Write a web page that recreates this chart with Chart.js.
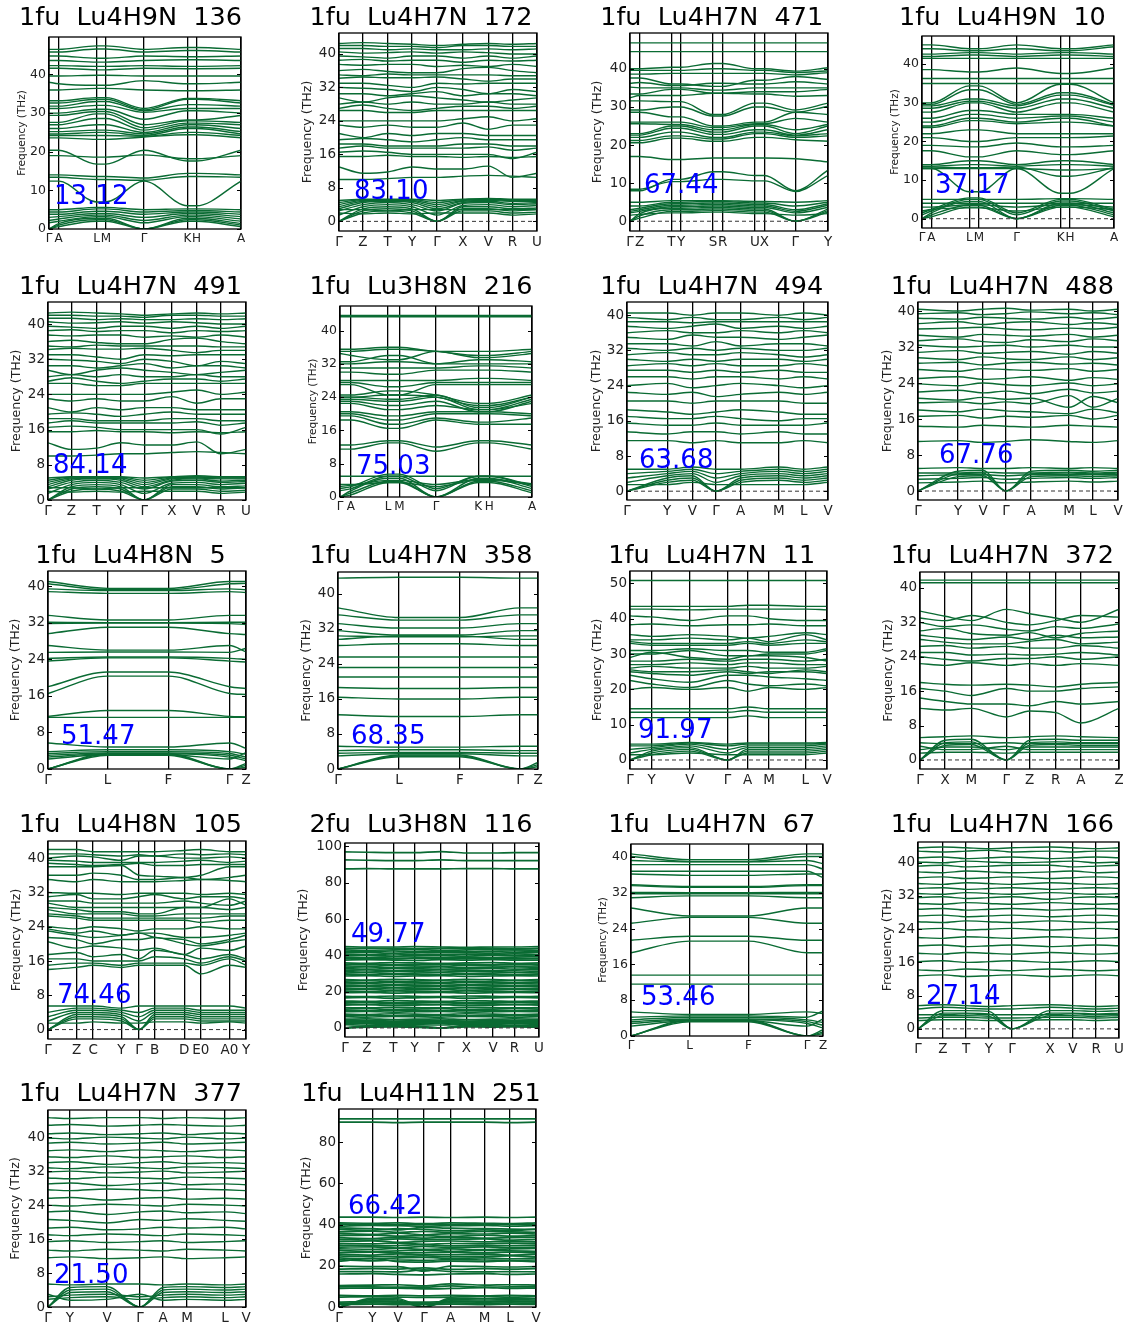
<!DOCTYPE html>
<html>
<head>
<meta charset="utf-8">
<script src="https://cdn.jsdelivr.net/npm/chart.js@4.4.0/dist/chart.umd.min.js"></script>
<style>
  body { margin: 0; background: #fff; width: 1123px; height: 1327px; position: relative; overflow: hidden; }
  canvas { position: absolute; }
</style>
</head>
<body>
<script>
// ---- titles / numbers shown in each panel ----
const titles = ['1fu  Lu4H9N  136', '1fu  Lu4H7N  172', '1fu  Lu4H7N  471', '1fu  Lu4H9N  10',
  '1fu  Lu4H7N  491', '1fu  Lu3H8N  216', '1fu  Lu4H7N  494', '1fu  Lu4H7N  488',
  '1fu  Lu4H8N  5', '1fu  Lu4H7N  358', '1fu  Lu4H7N  11', '1fu  Lu4H7N  372',
  '1fu  Lu4H8N  105', '2fu  Lu3H8N  116', '1fu  Lu4H7N  67', '1fu  Lu4H7N  166',
  '1fu  Lu4H7N  377', '1fu  Lu4H11N  251'];
const values = ['13.12', '83.10', '67.44', '37.17', '84.14', '75.03', '63.68', '67.76',
  '51.47', '68.35', '91.97', '', '74.46', '49.77', '53.46', '27.14', '21.50', '66.42'];

// ---- y tick labels ----
const ticks8 = [0, 8, 16, 24, 32, 40];
const ticks10 = [0, 10, 20, 30, 40];
const ticks10b = [0, 10, 20, 30, 40, 50];
const ticks20 = [0, 20, 40, 60, 80, 100];
const ticks20b = [0, 20, 40, 60, 80];

// ---- k-paths (labels + fraction along path) ----
const kLabelsHex = ['Γ', 'A', 'L', 'M', 'Γ', 'K', 'H', 'A'];
const kLabelsOrtho = ['Γ', 'Z', 'T', 'Y', 'Γ', 'X', 'V', 'R', 'U'];
const kLabels471 = ['Γ', 'Z', 'T', 'Y', 'S', 'R', 'U', 'X', 'Γ', 'Y'];
const kLabelsMono = ['Γ', 'Y', 'V', 'Γ', 'A', 'M', 'L', 'V'];
const kLabelsRh = ['Γ', 'L', 'F', 'Γ', 'Z'];
const kLabels372 = ['Γ', 'X', 'M', 'Γ', 'Z', 'R', 'A', 'Z'];
const kLabels105 = ['Γ', 'Z', 'C', 'Y', 'Γ', 'B', 'D', 'E0', 'A0', 'Y'];

const kPos136 = [0, 0.05, 0.248, 0.296, 0.495, 0.721, 0.768, 1];
const kPos172 = [0, 0.121, 0.245, 0.369, 0.495, 0.626, 0.754, 0.876, 1];
const kPos471 = [0, 0.049, 0.209, 0.258, 0.419, 0.468, 0.631, 0.679, 0.835, 1];
const kPos10 = [0, 0.049, 0.246, 0.297, 0.493, 0.722, 0.771, 1];
const kPos491 = [0, 0.118, 0.245, 0.367, 0.486, 0.625, 0.752, 0.873, 1];
const kPos216 = [0, 0.057, 0.25, 0.309, 0.5, 0.72, 0.777, 1];
const kPos494 = [0, 0.2, 0.325, 0.443, 0.565, 0.755, 0.88, 1];
const kPos488 = [0, 0.2, 0.325, 0.44, 0.565, 0.755, 0.875, 1];
const kPos5 = [0, 0.301, 0.608, 0.917, 1];
const kPos358 = [0, 0.305, 0.61, 0.91, 1];
const kPos11 = [0, 0.11, 0.304, 0.495, 0.597, 0.706, 0.89, 1];
const kPos372 = [0, 0.126, 0.258, 0.434, 0.551, 0.682, 0.808, 1];
const kPos105 = [0, 0.144, 0.228, 0.371, 0.46, 0.539, 0.688, 0.772, 0.916, 1];
const kPos116 = [0, 0.113, 0.249, 0.359, 0.494, 0.626, 0.763, 0.873, 1];
const kPos67 = [0, 0.305, 0.612, 0.917, 1];
const kPos166 = [0, 0.124, 0.239, 0.353, 0.468, 0.657, 0.771, 0.886, 1];
const kPos377 = [0, 0.111, 0.298, 0.465, 0.581, 0.702, 0.894, 1];
const kPos251 = [0, 0.17, 0.3, 0.431, 0.566, 0.739, 0.868, 1];

// ---- bands: frequency (THz) at each k-point ----
const bands136 = [
  [46.5,46.5,47.4,47.4,46.5,47,47,46.5],[45.8,45.8,46.6,46.6,45.8,46.2,46.2,45.8],
  [44.8,44.8,44.2,44.2,44.8,44.6,44.6,44.8],[43.6,43.6,43.2,43.2,43.6,43.8,43.8,43.6],
  [42.3,42.3,42.1,42.1,42.3,42.1,42.1,42.3],[41.6,41.6,41.2,41.2,41.6,41.5,41.5,41.6],
  [39.6,39.6,39.8,39.8,39.6,39.6,39.6,39.6],[38,37.6,37.2,37.2,38.4,37.6,37.6,38],
  [36,36,36.4,36.4,36,35.8,35.8,36],[33.2,33.2,34,34,31.2,33.8,33.8,33.2],
  [32.6,32.6,33.6,33.6,30.8,33.6,33.6,32.6],[31.8,31.8,33,33,30.6,32.2,32.2,31.8],
  [31.2,31.2,32,32,30.2,31.2,31.2,31.2],[30,30,31,31,28.4,30.6,30.6,30],
  [29.4,29.4,30.4,30.4,27,28.2,28.2,29.4],[27.6,27.6,29.8,29.8,26.2,28,28,27.6],
  [27,27,28.6,28.6,25.6,27.4,27.4,27],[26,26,27,27,25,27,27,26],
  [25.2,25.2,25.6,25.6,24.6,26.4,26.4,25.2],[24.6,24.6,25,25,24.2,26,26,24.6],
  [24.2,24.2,24.2,24.2,24,25,25,24.2],[23.6,23.6,23.2,23.2,23.8,24.4,24.4,23.6],
  [20.4,20.4,16.8,16.8,20.4,17.6,17.6,20.4],[19,19,18.6,18.6,19.2,18.2,18.2,19],
  [14,14,13.6,13.6,13.2,14.4,14.4,14],[13.4,13.4,12.8,12.8,12.6,13.6,13.6,13.4],
  [12.4,12.4,7,7,12.4,6,6,12.4],[5,5,5.6,5.6,5,5.2,5.2,5],
  [4.4,4.4,5.2,5.2,4.4,4.8,4.8,4.4],[3.8,3.8,4.6,4.6,3.8,4.4,4.4,3.8],
  [3,3.2,4,4,3,4,4,3.2],[2.2,2.6,3.6,3.6,2.2,3.6,3.6,2.6],
  [1.6,2,3.2,3.2,1.6,3.2,3.2,2],[0,1.4,2.8,2.8,0,2.8,2.8,1.4],
  [0,1,2.4,2.4,0,2.4,2.4,1],[0,0.6,2,2,0,2,2,0.6]
];
const bands172 = [
  [42.5,42.7,42.5,42.3,42,42.3,42.5,42.3,42.5],[42,42,41.8,41.8,41.5,42,42,41.8,41.8],
  [41.3,41.3,41,41.2,41,41,41.2,41,41.2],[40.5,40.2,40.3,40.5,40.2,40.5,40.3,40,40],
  [39.5,39.3,39,39.5,39.5,39,39.5,39,39.5],[38.5,38.7,38.3,38.5,38.5,38,38.5,38.3,38.5],
  [37.5,37.3,37.5,37.5,37,37.3,37,37.5,37],[36,36.3,35.8,35.5,35.5,36.5,36.8,36,35.5],
  [35,34.8,35.2,35,35,35,35,34.8,34.8],[34.2,34.5,34.3,34.3,34.5,34,33.5,34,34],
  [33,33,32.5,32,33,32.8,33,33,33],[32,31.8,31.5,31,32,31.5,30.5,31.5,31],
  [30.5,30.5,30,30.5,31,30,30.5,30.5,30],[29.5,28.5,29.5,30,29.5,29,28.5,29,29.5],
  [28,28.5,28,28.5,28,28,28.5,28,28],[27,27.8,27,26.5,27,27.5,27.5,27,27.5],
  [26.5,26.5,26,26,26.5,26.5,26.5,26.5,26.5],[24,24,24,24,24,24.5,25,24,24.5],
  [23,22.5,23,22.5,22.5,23.5,22,23,23],[21,20,21,20.5,21,21,20.5,20.5,20.5],
  [19.5,19.8,19.5,19,19.5,20,19.5,19.5,19.5],[18.5,18.5,18,18,18,18.5,18.5,18,18],
  [17.5,18,17.5,17.5,17.5,17.5,17.8,17,17.5],[16.5,16.8,16.5,16,16,16,16,15,16.5],
  [15.5,15.5,15.8,15.5,15.5,15.3,15.5,15.3,15.5],[13,11.5,11.8,13,12.5,12.5,13.2,10.5,11.5],
  [10,10,10.2,10.5,10.5,10.8,11,10.8,10.5],
  [0,2,2.5,2,0,2.5,2.5,2,2.2],[0,2.5,3,2.5,0,3,3,2.5,2.8],[0,3,3.5,3,0,3.5,3.5,3,3.2],
  [1.5,3.5,4,3.5,1.5,3.8,4,3.5,3.8],[2.5,4,4.5,4,2.5,4.3,4.5,4,4.2],
  [3,4.5,4.8,4.5,3,4.5,4.8,4.3,4.5],[3.5,4.8,5,4.8,3.5,4.8,5,4.8,4.8],
  [4,5,5,5,4,5,5.2,5,5],[4.5,5.2,5.2,5.2,4.5,5.2,5.3,5.2,5.2],
  [5,5.3,5.3,5.3,5,5.3,5.5,5.3,5.3],[2,1.8,2,1.8,2,2,2,1.5,1.8],
  [2.8,2.8,2.5,2.8,2.8,2.8,2.8,2.8,2.8]
];
const bands471 = [
  [46.8,46.8,46.8,46.8,46.8,46.8,46.8,46.8,46.8,46.8],[44.5,44.5,44.5,44.5,44.5,44.5,44.5,44.5,44.5,44.5],
  [40,40,40.4,40.4,41.4,41.4,40,40,39.4,40.3],[39.6,39.6,39.6,39.6,40,40,39.6,39.6,39,39.5],
  [38.6,38.6,38.8,38.8,38.8,38.8,38.8,38.8,38.4,39],[37.6,37.6,36,36,35.4,35.4,37,37,38,37.2],
  [36.2,36.4,35.6,35.6,36.2,36.2,36,36,36.6,36],[35.2,35,35,35,34.4,34.4,35,35,35,35],
  [33.4,33.4,34.6,34.6,33.6,33.6,34,34,34,34.6],[32.4,33,33,33,33.6,33.6,33.4,33.4,32.8,33],
  [31.6,31.6,31.4,31.4,28,28,31,31,29.2,31],[29.2,29.2,30,30,27.6,27.6,30,30,28.6,30.2],
  [28.6,28.6,27.4,27.4,25,25,26,26,28.6,28],[26,26,26,26,24.6,24.6,25.6,25.6,27,26],
  [25.6,25.6,25.4,25.4,24,24,25.4,25.4,24,25.4],[23,23,25,25,23.4,23.4,25,25,23,25],
  [22.6,22.6,24.4,24.4,22.8,22.8,24,24,22.6,24],[22,22,23.4,23.4,22,22,23.4,23.4,22.4,23],
  [21.2,21.2,22.4,22.4,21.6,21.6,23,23,22,22.4],[20.6,20.6,21.8,21.8,21,21,22,22,21.4,21],
  [17,17,16.2,16.2,16.6,16.6,16.6,16.6,16.4,15.6],[8,8,11,11,13,13,12,12,8,13.4],
  [8.4,8.4,10.4,10.4,11,11,10.6,10.6,7.8,12],[5,5,5.4,5.4,5.4,5.4,5.2,5.2,5,5.4],
  [4,4,5,5,5.2,5.2,4.8,4.8,4,5],[3,3.4,4.6,4.6,4.8,4.8,4.4,4.4,3,4.6],
  [2.6,3,4.2,4.2,4.4,4.4,4,4,2.6,4.2],[2.2,2.6,3.8,3.8,4,4,3.6,3.6,2.2,3.6],
  [0,2,3.4,3.4,3.6,3.6,3.2,3.2,0,3.2],[0,1.4,3,3,3.2,3.2,2.8,2.8,0,2.8],
  [0,0.8,2.6,2.6,2.8,2.8,2.4,2.4,0,2.4],[1.6,1.8,2.2,2.2,2.4,2.4,2,2,1.6,2]
];
const bands10 = [
  [45,45,44,44,45,44,44,45],[44,44,43.5,43.5,44,43.5,43.5,44.5],
  [42.6,42.6,43,43,42.6,43,43,42.6],[42,42,42.4,42.4,42,42.4,42.4,42],
  [41.5,41.5,41.5,41.5,41.5,41.5,41.5,41.5],[38.6,38.6,38,38,39,37.6,37.6,39],
  [36.3,36.3,36.3,36.3,36.3,36.3,36.3,36.3],[35,35,35,35,35,35,35,35],
  [30,30,34.4,34.4,30,34.8,34.8,30],[29.6,29.6,33.4,33.4,29.6,32.6,32.6,29.6],
  [29.2,29.2,31,31,29.2,32,32,29.4],[28.6,28.6,30.4,30.4,28.6,31,31,28.6],
  [27.6,27.6,30,30,27.6,30,30,27.6],[26,26,28,28,27,27,27,26],
  [25,25,27,27,26,26.6,26.6,25],[24,24,26,26,25,26,26,24],
  [23.6,23.6,25.4,25.4,24.6,25,25,24],[22,22,23,23,22,22,22,22],
  [21,21,20,20,21,21,21,21.4],[19,19,18.6,18.6,19.6,18.6,18.6,19],
  [17.6,17.6,16,16,17.6,16.6,16.6,17.6],[14,14,15,15,14,15,15,14],
  [13.6,13.6,14,14,13.6,14,14,13.6],[13,13,13,13,13,12.6,12.6,13],
  [13,13,7,7,13,6.6,6.6,13],[13.4,13.4,13.2,13.2,13.4,11,11,13.2],
  [5,5,5,5,5,5.2,5.2,5],[4,4,4,4,4,4,4,4],[3,3,3.6,3.6,3,3.6,3.6,3],
  [2,2.4,2.8,2.8,2,3,3,2.4],[1.5,2.4,5.4,5.4,1.5,5,5,2.4],[1,2,5,5,1,4.6,4.6,2],
  [0,1.5,4.5,4.5,0,4,4,1.5],[0,1,3.5,3.5,0,3.5,3.5,1],[0,0.5,3,3,0,3,3,0.5]
];
const bands491 = bands172; // this panel shows the same spectrum as 172
const bands216 = [
  [43.6,43.6,43.6,43.6,43.6,43.6,43.6,43.6],[43.3,43.3,43.3,43.3,43.3,43.3,43.3,43.3],
  [35.5,35.5,36,36,35,35,35,35.5],[35,35,35.5,35.5,35,34,34,35],
  [34.5,34,33,33,35,33.5,33.5,34.5],[32.5,32.5,34,34,32,33,33,32.5],
  [32,32,32.5,32.5,32,32,32,32],[31,31,31,31,31,31.5,31.5,31],
  [30,30,29.5,29.5,30.5,30.5,30.5,30],[28,28,28,28,28,28.5,28.5,28],
  [27.5,27.5,26.5,26.5,27.5,27.5,27.5,27.5],[27,27,24.5,24.5,27,27,27,27],
  [24.5,24.5,25.5,25.5,24.5,22.5,22.5,24.5],[24,24,24.5,24.5,24,22,22,24],
  [24,24,23.5,23.5,24.5,21.5,21.5,24],[23.5,23.5,23,23,24,21,21,23.5],
  [23,23,22,22,23,20.5,20.5,23],[22.5,22.5,21,21,22,21,21,22.5],
  [20.5,20.5,19.5,19.5,20.5,20.5,20.5,20],[20,20,18.5,18.5,20,20,20,19.5],
  [18.5,18.5,16.5,16.5,18.5,17.5,17.5,17.5],[19.5,19.5,17.5,17.5,19,18,18,19],
  [12.5,12.5,13.5,13.5,12,13.5,13.5,12.5],[11.5,11.5,13,13,11,13,13,11.5],
  [5,5,5,5,5,5,5,5],[3,3,4,4,3,4.2,4.2,3.2],[2.5,2.8,3.5,3.5,2.5,4,4,3],
  [2,2.5,5.5,5.5,2,5,5,2.8],[1.5,2,5,5,1.5,5,5,2.5],
  [0,1.5,4.5,4.5,0,4.5,4.5,2],[0,1,3.8,3.8,0,3.8,3.8,1.5],[0,0.5,3.5,3.5,0,3.5,3.5,1]
];
const bands494 = [
  [40.5,40.5,40,40.5,40.5,40,40.5,40],[39.5,39,39.5,39,39,39.5,39,39.5],
  [38.5,38.5,38.3,38.5,38.5,38.5,38.5,38.5],[37.5,37,37.5,38,37,37.5,37,37.5],
  [36,36.5,36,36,36.5,36,36.5,36],[35,34.5,35.5,35,35,34.5,35,35.5],
  [33.5,33.5,33,34,33,33.5,33.5,33],[32.5,32,32.5,32,32.5,32,32,32.5],
  [31,31.5,31,31,31.5,31,30.5,31],[30,29.5,30,29.5,30,30,29.5,30],
  [28.5,29,28.5,29,28.5,28.5,29,28.5],[27.5,27.5,27,27.5,27,27.5,27,27],
  [26,26,25.5,26,26,25.5,26,25.5],[24,24.5,23.5,24,24.5,24,23.5,24],
  [22.5,22,22.5,21.5,22,22.5,22,22.5],[20.5,20.5,20,20.5,20.5,20.5,20,20],
  [18.5,18,17.5,18,18.5,18,17.5,17.5],[17,16.5,16.5,17,16.5,16,16.5,16.5],
  [15.5,15,15,15.5,15,15,15,15.5],[13.5,13,13.5,13.5,13,13.5,13,13],
  [11.5,11.5,11,11.5,11,11,11.5,11],
  [0,2,2.5,0,2,2.5,2,2.5],[0,2.5,3,0,2.5,3,2.5,3],[0,3,3.5,0,3,3.5,3,3.5],
  [2,3.5,4,2,3.5,4,3.5,4],[3,4,4.5,3,4,4.5,4,4.5],[4,4.5,5,4,4.5,5,4.5,5],
  [5,5,5.5,5,5,5.5,5,5.5],[1.5,1.5,2,1.5,1.5,1.5,1.5,2]
];
const bands488 = [
  [40.4,40,40.4,40.6,40.2,40.4,40,40.4],[39.4,39.6,39.2,39.4,39.8,39.4,39.6,39.2],
  [38.4,38.2,38.6,38.4,38.2,38.6,38.2,38.6],[37.2,37.6,37,37.4,37.6,37,37.4,37],
  [36,36.2,36.4,36,35.8,36.2,36,36.4],[34.6,34.2,34.8,34.6,34.4,34.8,34.2,34.6],
  [33.4,33.8,33.2,33,33.6,33.2,33.8,33.4],[32.4,32,32.2,32.4,32,32.4,32,32],
  [30.8,31.2,30.6,30.8,31,30.4,31,30.6],[29.6,29.2,29.8,29.4,29.2,29.8,29.2,29.6],
  [28.4,28.6,28,28.4,28.6,28.2,28.4,28],[27,26.6,27.2,27,26.8,27.2,26.6,27],
  [25,25.4,24.8,25,25.4,24.6,25.2,24.8],[23.8,23.4,24,23.6,23.4,24,23.4,23.8],
  [22,22.4,21.8,22.2,21.6,22.6,21.8,22.2],[20.6,20.2,20.8,20.4,20.6,18.6,21,19.6],
  [19.6,19.8,19.4,19.8,19.4,21.2,18.6,20.6],[18,17.6,18.2,17.8,17.6,17.2,18.2,17.4],
  [16.6,16.8,16.2,16.6,16.4,16.8,16,16.8],[14.4,14.2,14.6,14.4,14.2,14.6,14.4,14.2],
  [11,11.2,10.8,11,11.4,11,10.8,11.2],
  [5,5.2,5,5,5.2,5,5.2,5],[0,4.4,4.6,0,4.4,4.6,4.4,4.6],[0,3.8,4,0,3.8,4,3.8,4],
  [0,3.2,3.4,0,3.2,3.4,3.2,3.4],[2.6,2.8,3,2.6,2.8,3,2.8,3],[3.4,3.6,3.6,3.4,3.6,3.6,3.6,3.6],
  [4,4,4.2,4,4,4.2,4,4.2],[1.8,2,2.2,1.8,2,2.2,2,2.2]
];
const bands5 = [
  [41,39.5,39.5,41,41],[40.5,39.2,39.2,40.5,40.6],[39.4,39,39,39.4,39.2],[38.8,38.4,38.4,38.8,38.6],
  [33.6,32.6,32.6,33.6,33.6],[32.1,32,32,32.1,32.1],[31.8,31.9,31.9,31.8,31.6],[29.6,31,31,29.6,29.4],
  [27,26,26,27,25.6],[25.5,25.6,25.6,25.5,26.4],[24.2,24.5,24.5,24.2,24],[23.6,24.3,24.3,23.6,23.4],
  [18,21.2,21.2,18,17.6],[16.5,20.3,20.3,16.5,16.3],[11.3,11.3,11.3,11.3,11.3],[11.5,12.8,12.8,11.5,11.4],
  [5.7,4.8,4.8,5.7,4.5],[3.8,4.2,4.2,3.8,3.2],[3.4,3.8,3.8,3.4,2.6],[3,3.5,3.5,3,2.2],
  [2.6,3.3,3.3,2.6,1.8],[2.2,3.1,3.1,2.2,3.6],[0,3.4,3.4,0,1.2],[0,3.2,3.2,0,0.8],[0,3,3,0,0.4]
];
const bands358 = [
  [43.6,43.8,43.8,43.6,43.6],[36.8,34.6,34.6,36.8,36.8],[35.2,34,34,35.2,35.2],[33.2,32.2,32.2,33.2,33.2],
  [31.6,30.6,30.6,31.6,31.6],[30.4,30.2,30.2,30.4,30.4],[29.6,30.4,30.4,29.6,29.6],[28.2,28.6,28.6,28.2,28.2],
  [25.6,25.6,25.6,25.6,25.6],[23.2,23.2,23.2,23.2,23.2],[21,21,21,21,21],[18.6,18.4,18.4,18.6,18.6],
  [16.4,16,16,16.4,16.4],[12.4,12,12,12.4,12.4],[5.2,5,5,5.2,5.2],[4.2,4.4,4.4,4.2,4.2],
  [3.6,3.8,3.8,3.6,3.6],[3,3.5,3.5,3,3],[0,3.2,3.2,0,1.5],[0,3,3,0,1],[0,2.8,2.8,0,0.5]
];
const bands11 = [
  [50.8,50.8,50.8,50.8,50.8,50.8,50.8,50.8],[43.5,43.5,43.5,43.5,43.8,43.8,43.5,43.5],
  [42.7,42.7,42.5,42.7,42.7,42.7,42.7,42.5],[40.8,40.5,39.5,40.8,40.8,40,39.5,39.5],
  [38.3,38.5,38,38.3,38.3,38.5,38,38],[35.5,35,35.5,35,34.5,35,36,35.5],
  [34,34,34.5,34,34.5,33.5,35.5,34],[33.5,33,33,33,33.5,33,34,33.5],
  [33,32.5,32.5,32.5,33,32.5,33,33],[31,31,31.5,31,31,30.5,30.5,31.5],
  [30,30,31,29.5,29.5,30,30,31],[29,30.5,29,28.5,29.5,29.5,29,28],
  [28,28,28.5,28,28.5,28.5,28,28.5],[27,27,27.5,27,27.5,27.5,27,27],
  [26,26.5,26,26,26.5,26,26,26.5],[25.5,25,25,25.5,25,24.5,25.5,25],
  [25,24.5,24,25,24.5,25,25,24.5],[24,23,22,24,24,23.5,23,22.5],
  [22.5,21.5,20.5,22.5,21.5,21,21.5,21],[20,20.5,20,20.5,19.5,20.5,20,20.5],
  [14.5,14.5,14.5,14.5,15,14.5,14.5,14.5],[13.5,13.5,13.5,13.5,14,13.5,13.5,13.5],
  [12,12,12,12,12.5,12,12,12],
  [0,1.5,2.5,0,2,2,2,2.5],[0,2,3,0,2.5,2.5,2.5,3],[0,2.5,3.5,0,3,3,3,3.5],
  [2,3,4,2,3.5,3.5,3.5,4],[3,3.5,4.5,3,4,4,4,4.5],[4,4,4.8,4,4.5,4.5,4.5,4.8],
  [4.5,4.5,5,4.5,4.8,4.8,4.8,5],[1.5,1.5,2,1.5,1.5,1.5,1.5,2]
];
const bands372 = [
  [41.8,41.8,41.8,41.8,41.8,41.8,41.8,41.8],[41.2,41.2,41.2,41.2,41.2,41.2,41.2,41.2],
  [34.6,33.4,32.4,35,34,33,32,35],[33,32.4,33.6,32,31.4,32.4,33.6,33.2],
  [32,31,31.4,30.4,30,31,30.6,31.6],[30,30.6,29.4,29,29.6,28.4,29.4,30],
  [29,28.4,28,28.6,28,29,28.4,28.6],[28,27.4,27,27,27.6,28,27,27.4],
  [26.4,26.6,26,26.4,26,26,26.6,26],[25,25,24.4,24.6,24.4,24.6,25,24.4],
  [24,23.4,23,23.6,23.6,24,23.4,24],[22.4,22,22.6,22,22.4,22,22.4,22],
  [18,17.6,17.4,17.6,17.4,17,17.6,18],[16.6,16,15,16.6,16,16,16.6,17],
  [14.4,13.6,13,13,12.6,13.6,13,13.6],[12,11.6,12,10,11.4,11,8.6,12],
  [5.2,5.4,5.6,5.2,5.4,5.6,5.4,5.2],[0,4.6,4.8,0,4.6,4.8,4.6,4.6],[0,4,4.2,0,4,4.2,4,4],
  [0,3.4,3.6,0,3.4,3.6,3.4,3.4],[2.4,3,3,2.4,3,3,3,3],[3.2,2.4,2.4,3.2,2.4,2.4,2.4,2.4],
  [4,3.8,3.8,4,3.8,3.8,3.8,3.8],[1.6,1.8,1.8,1.6,1.8,1.8,1.8,1.8]
];
const bands105 = [
  [42,42,41.5,41.5,41.5,41.5,41.8,42,41.5,41.5],[41,41,40.8,40.5,40.8,40.5,41,40.8,41,40.8],
  [40,40.5,40.3,39.5,40.5,40.5,40,40,40.3,40],[39.5,39.3,39,39,39,39,39.3,39.5,39,39.3],
  [38.8,38.5,38.3,38.5,38.8,38.3,38.3,38.5,38.5,38.5],[38,38,38,38.3,36,35.8,35.5,36,38,38],
  [36,36,36.5,36,35,35,35.5,35,35.5,36],[35,34.5,35,34.5,34.5,34.5,34.8,35,34.8,34.5],
  [32,31.8,31.8,31.5,31.8,31.8,31.8,31.5,31.8,31.5],[31,31.5,30.5,30.5,31,31.5,30.5,31,31,30.5],
  [30,30,29.5,29.5,29.5,29.5,30,29.5,29,30],[29.5,28.5,28.5,28.5,28.5,28.5,28.5,28.5,30.5,29],
  [28.5,28,27.5,27.5,27,27,28.5,28.5,28,28.5],[28,27,27,27,26.5,26.5,27,27,27,27],
  [27,26.5,26,26,26,26,26,26,26.5,26.5],[26.5,26,25.5,25.5,25.5,25.5,25.5,25,25.5,25.5],
  [24,23.5,24,23.5,23,23.5,23.5,24,23.5,23.5],[23.5,22.5,23,22,22.5,22.5,21.5,21.5,22,22.5],
  [23,22,21.5,22,22.5,21.5,21,20,21,22],[21.5,21,20,21,21,21.5,20,19.5,20.5,21],
  [20.5,19,19.5,19,18.5,19,17.5,19,18.5,19.5],[17.5,18,17,17.5,16.5,18.5,17.5,16.5,17.5,16.5],
  [16.5,16.5,16,16,16,17,16.5,15.5,17,16],[15,15.5,15.5,15,15.5,15.5,15.5,15,16.5,15],
  [14,14.5,15,14.5,15,15,15,13,15,14.5],
  [0,2.5,2.5,2,0,2.5,2.5,2,2,2],[0,3,3,2.5,0,3,3,2.5,2.5,2.5],[0,3.5,3.5,3,0,3.5,3.5,3,3,3],
  [2,4,4,3.5,2,4,4,3.5,3.5,3.5],[3,4.5,4.5,4,3,4.5,4.5,4,4,4],[4,5,5,4.5,4,5,5,4.5,4.5,4.5],
  [5.5,5.5,5.5,5,5.5,5.5,5.5,5.5,5.5,5],[1.5,1.5,1.8,1.5,1.5,1.8,1.8,1.5,1.8,1.5]
];
const bands116 = [
  [97,96.8,96.6,96.6,97.2,96.4,96.4,96.6,96.6],[92.6,92.4,92.2,92.2,92.6,92.2,92.2,92.2,92.2],
  [87.6,87.8,87.6,87.6,87.6,87.8,87.8,87.6,87.6],
  [44.8,44.6,44.6,44.8,44.6,44.4,44.6,44.6,44.8],[43.8,44,43.8,43.6,43.8,44,43.8,43.6,43.8],
  [43,42.8,43,43.2,42.8,43,43.2,43,42.8],[42.2,42,42.4,42,42.2,42,42.2,42.4,42],
  [41.4,41.6,41.2,41.4,41.6,41.4,41.2,41.4,41.6],[40.6,40.4,40.8,40.4,40.6,40.6,40.4,40.8,40.4],
  [39.8,40,39.6,39.8,39.8,39.6,40,39.8,39.6],[39,38.8,39.2,39,38.8,39,38.8,39,39.2],
  [38.2,38.4,38,38.4,38.2,38.2,38.4,38,38.2],[37.4,37.6,37.4,37.2,37.6,37.4,37.6,37.4,37.4],
  [35.8,35.6,36,35.8,35.6,35.8,36,35.6,35.8],[35,35.2,34.8,35,35.2,35,34.8,35.2,35],
  [34.2,34,34.4,34.2,34,34.4,34.2,34,34.2],[33.4,33.6,33.2,33.4,33.6,33.2,33.4,33.6,33.4],
  [32.6,32.4,32.8,32.6,32.4,32.6,32.8,32.4,32.6],[31.8,32,31.6,31.8,32,31.8,31.6,31.8,32],
  [31,30.8,31.2,31,30.8,31.2,31,30.8,31],[30.2,30.4,30,30.2,30.4,30,30.2,30.4,30.2],
  [29.4,29.2,29.6,29.4,29.2,29.6,29.4,29.2,29.4],[28.6,28.8,28.4,28.6,28.8,28.4,28.6,28.8,28.6],
  [26.6,26.4,26.8,26.6,26.4,26.8,26.6,26.4,26.6],[25.8,26,25.6,25.8,26,25.6,25.8,26,25.8],
  [25,24.8,25.2,25,24.8,25.2,25,24.8,25],[24.2,24.4,24,24.2,24.4,24,24.2,24.4,24.2],
  [23.4,23.2,23.6,23.4,23.2,23.6,23.4,23.2,23.4],[22.6,22.8,22.4,22.6,22.8,22.4,22.6,22.8,22.6],
  [21.8,21.6,22,21.8,21.6,22,21.8,21.6,21.8],[21,21.2,20.8,21,21.2,20.8,21,21.2,21],
  [20.2,20,20.4,20.2,20,20.4,20.2,20,20.2],[19.4,19.6,19.2,19.4,19.6,19.2,19.4,19.6,19.4],
  [17.4,17.2,17.6,17.4,17.2,17.6,17.4,17.2,17.4],[16.6,16.8,16.4,16.6,16.8,16.4,16.6,16.8,16.6],
  [14.8,14.6,15,14.8,14.6,15,14.8,14.6,14.8],[14,14.2,13.8,14,14.2,13.8,14,14.2,14],
  [13.2,13,13.4,13.2,13,13.4,13.2,13,13.2],[12.6,12.8,12.4,12.6,12.8,12.4,12.6,12.8,12.6],
  [11.2,11,11.4,11.2,11,11.4,11.2,11,11.2],[10.4,10.6,10.2,10.4,10.6,10.2,10.4,10.6,10.4],
  [9.6,9.4,9.8,9.6,9.4,9.8,9.6,9.4,9.6],[8.9,9.1,8.7,8.9,9.1,8.7,8.9,9.1,8.9],
  [7.6,7.4,7.8,7.6,7.4,7.8,7.6,7.4,7.6],[6.8,7,6.6,6.8,7,6.6,6.8,7,6.8],
  [6.2,6,6.3,6.2,6,6.3,6.2,6,6.2],[4.8,5,4.6,4.8,5,4.6,4.8,5,4.8],
  [4.2,4,4.4,4.2,4,4.4,4.2,4,4.2],[3.6,3.8,3.4,3.6,3.8,3.4,3.6,3.8,3.6],
  [3,2.8,3.2,3,2.8,3.2,3,2.8,3],[2.4,2.6,2.2,2.4,2.6,2.2,2.4,2.6,2.4],
  [1.8,1.6,2,1.8,1.6,2,1.8,1.6,1.8],[0,1.2,1.4,1.2,0,1.4,1.2,1.4,1.2],
  [0,0.8,1,0.8,0,1,0.8,1,0.8],[0,0.4,0.6,0.4,0,0.6,0.4,0.6,0.4]
];
const bands67 = [
  [40.7,39.4,39.4,40.7,40.7],[40.1,39,39,40.1,40.1],[39.2,38.9,38.9,39.2,38.5],[38.3,38.3,38.3,38.3,37.3],
  [36.8,36.8,36.8,36.8,35.4],[36.2,35.9,35.9,36.2,36.2],[33.8,33.4,33.4,33.8,33.8],[33.6,33.2,33.2,33.6,33.6],
  [32.1,32,32,32.1,32.1],[31.8,31.8,31.8,31.8,31.8],[30.9,31.3,31.3,30.9,30.9],[28.6,26.8,26.8,28.6,28.6],
  [25.2,26.5,26.5,25.2,25.2],[21.4,22.3,22.3,21.4,21.4],[18.6,21.2,21.2,18.6,18.6],[13.6,13.6,13.6,13.6,13.6],
  [11.6,11.6,11.6,11.6,11.6],[5.4,4.8,4.8,5.4,5],[4.2,4.5,4.5,4.2,5.6],[3.6,4.2,4.2,3.6,3],
  [3.2,3.8,3.8,3.2,2.4],[2.8,3.6,3.6,2.8,1.8],[2.2,3.4,3.4,2.2,3.8],[0,3.6,3.6,0,1.4],
  [0,3.4,3.4,0,0.9],[0,3.2,3.2,0,0.5]
];
const bands166 = [
  [43.6,43.8,43.6,43.4,43.6,43.8,43.6,43.4,43.6],[42.8,42.6,42.8,43,42.6,42.8,42.6,42.8,42.8],
  [41.2,41.4,41,41.2,41.4,41,41.2,41.4,41.2],[40.2,40,40.4,40.2,40,40.2,40.4,40,40.2],
  [39.2,39.4,39,39.2,39.4,39.4,39,39.2,39.4],[37.8,37.6,38,37.8,37.6,37.8,38,37.6,37.8],
  [36.4,36.6,36.2,36.4,36.6,36.2,36.4,36.6,36.4],[35,34.8,35.2,35,34.8,35.2,35,34.8,35],
  [33.8,34,33.6,33.8,34,33.6,33.8,34,33.8],[32.6,32.4,32.8,32.6,32.4,32.8,32.6,32.4,32.6],
  [31.6,31.8,31.4,31.6,31.8,31.2,31.6,31.8,31.6],[30.2,30,30.4,30.2,30,30.4,30.2,30,30.2],
  [28.8,29,28.6,28.8,29,28.6,28.8,29,28.8],[27.2,27.4,27,27.2,27.4,27,27.2,27.4,27.2],
  [25.8,25.6,26,25.8,25.6,26,25.8,25.6,25.8],[24,24.2,23.8,24,24.2,23.8,24,24.2,24],
  [22,21.8,22.2,22,21.8,22.2,22,21.8,22],[20,20.2,19.8,20,20.2,19.8,20,20.2,20],
  [18.2,18,18.4,18.2,18,18.4,18.2,18,18.2],[16.2,16.4,16,16.2,16.4,16,16.2,16.4,16.2],
  [14.2,14,14.4,14.2,14,14.4,14.2,14,14.2],[12.8,13,12.6,12.8,13,12.6,12.8,13,12.8],
  [5.6,5.8,5.6,5.4,5.6,5.8,5.6,5.4,5.6],[4.8,5.2,5,4.8,4.8,5.2,5,4.8,5],
  [0,4.4,4.4,4.2,0,4.4,4.4,4.2,4.4],[0,3.8,3.8,3.6,0,3.8,3.8,3.6,3.8],
  [0,3.2,3.2,3,0,3.2,3.2,3,3.2],[2.6,2.8,2.8,2.6,2.6,2.8,2.8,2.6,2.8],
  [2,2.2,2.2,2,2,2.2,2.2,2,2.2],[3.4,3.4,3.6,3.4,3.4,3.4,3.6,3.4,3.4]
];
const bands377 = [
  [44.6,44.4,44.6,44.6,44.4,44.6,44.4,44.6],[42.8,43,42.6,42.8,43,42.8,42.6,42.8],
  [40.8,41,40.6,40.8,41,40.6,41,40.8],[39.8,39.6,40,39.8,39.6,40,39.6,39.8],
  [38.6,38.8,38.4,38.6,38.8,38.4,38.6,38.8],[36.8,37,36.6,37,36.8,36.6,37,36.8],
  [35.4,35.2,35.6,35.2,35.4,35.6,35.2,35.4],[34,34.2,33.6,34,34.2,33.8,34,33.8],
  [32.8,32.6,33,32.8,32.6,33,32.8,32.6],[31.8,32,31.6,31.8,32,31.6,31.8,32],
  [30.4,30.2,30.6,30.4,30.2,30.6,30.4,30.2],[29,29.2,28.6,29,29.2,28.8,29,28.8],
  [27.6,27.4,27.8,27.6,27.4,27.8,27.6,27.4],[25.6,25.8,25.2,25.6,25.8,25.4,25.6,25.4],
  [24,23.8,24.2,24,23.8,24.2,24,23.8],[22.4,22.6,21.8,22.4,22.6,22.2,22.4,22],
  [20.6,20.4,19.8,20.6,20.4,20.8,20.4,20.2],[18.6,18.8,18.2,18.4,18.8,18.6,18.8,18.4],
  [17,16.8,17.2,17,16.8,17.2,17,16.8],[15.4,15.6,15.2,15.4,15.6,15.2,15.4,15.6],
  [13.4,13.2,13.6,13.4,13.2,13.6,13.4,13.2],[11.6,11.8,11.4,11.6,11.8,11.4,11.6,11.8],
  [5.4,5.2,5.4,5.4,5.2,5.4,5.2,5.4],[0,4.6,4.8,0,4.6,4.8,4.6,4.8],[0,4,4.2,0,4,4.2,4,4.2],
  [0,3.4,3.6,0,3.4,3.6,3.4,3.6],[2.4,2.8,3,2.4,2.8,3,2.8,3],[1.8,2.2,2.4,1.8,2.2,2.4,2.2,2.4],
  [3,1.6,1.8,3,1.6,1.8,1.6,1.8]
];
const bands251 = [
  [91.2,91.2,91.2,91.2,91.2,91.2,91.2,91.2],[89.6,89.6,89.4,89.6,89.6,89.6,89.4,89.6],
  [43.6,43.6,43.4,43.6,43.4,43.6,43.4,43.6],[40.8,40.6,40.8,40.4,40.8,40.6,40.4,40.8],
  [40.2,40,39.8,40.2,40,39.8,40.2,39.8],[39.2,39.6,39.4,39.2,39.4,39.6,39.2,39.4],
  [38.4,38,37.4,38.6,38.2,38,37.8,37.6],[37.6,37.2,38,37.6,37,37.4,37,37.8],
  [36.4,36.8,36.2,36.6,36.2,36.6,36.4,36.2],[35.6,35.2,35.8,35,35.6,35.4,35.8,35.4],
  [34.6,34.8,34.4,34.6,34.2,34.8,34.4,34.6],[33.6,33.2,33.8,33.4,33.8,33.4,33.6,33.8],
  [32.8,32.4,33,32.6,32.8,33,32.4,32.8],[31.8,32,31.4,31.8,32,31.6,31.8,31.6],
  [30.8,30.6,31,30.4,30.8,30.6,31,30.8],[30,29.6,29.8,30.2,29.6,29.8,29.8,30],
  [29,29.2,28.6,29.4,28.8,29.2,28.8,29],[28.2,28,28.4,28,28.2,27.8,28.2,28.4],
  [27.4,27,27.2,27.6,27,27.4,27.2,27],[26.4,26.6,26.2,26.4,26.6,26.2,26.6,26.2],
  [25.6,25.2,25.8,25.4,25.4,25.6,25.2,25.6],[24.8,24.4,24.6,24.8,24.4,24.6,24.8,24.4],
  [23.8,23.4,23.8,24,23.6,23.8,23.4,23.8],[23,22.4,22.8,22.6,23,22.8,22.6,22.8],
  [22.2,23.6,22,21.8,22.2,22,22.4,22],[19.8,19.6,19.6,17.4,19.8,19.6,19.4,19.6],
  [18.4,18.6,18.4,19,18.2,18.6,18.4,18.6],[17.2,17.2,17,18,17.2,17,17.2,17],
  [16,16.2,15.8,15.6,16,16.2,15.8,16],[10.4,10.6,10.8,10.2,11.2,10.6,10.8,10.6],
  [9.8,9.8,9.6,9.6,10.2,9.6,9.8,9.8],[9,9.2,9.2,8.8,9,9.4,9,9.2],
  [5.6,5.4,5.6,5.4,5.6,5.4,5.6,5.4],[4.8,5,4.8,4.6,4.8,5,4.8,5],
  [0,4.2,4,0,4.2,4,4.2,4],[0,3.6,3.4,0,3.6,3.4,3.6,3.4],[0,3,2.8,0,3,2.8,3,2.8],
  [2.4,2.6,2.4,2.4,2.6,2.4,2.6,2.4],[1.8,2,1.8,1.8,2,1.8,2,1.8],[1.2,1.4,1.2,1.2,1.4,1.2,1.4,1.2]
];

// ---- layout (page pixels): plot box [left, top, width, height], y range ----
const boxes = [
  [49,37,192,192],[339,33,198,198],[630,33,198,198],[922,36,192,192],
  [48,302,198,198],[340,306,192,191],[627,302,201,198],[918,302,200,198],
  [48,571,198,198],[338,572,200,197],[630,571,197,198],[920,572,199,197],
  [48,841,198,198],[345,843,194,194],[631,844,192,192],[918,842,201,196],
  [48,1110,198,197],[339,1109,197,198]
];
const yRanges = [
  [0,49.7],[-2.3,45],[-2.56,49.4],[-2.4,47.3],[0,45],[0,45.9],[-2,43],[-2,42],
  [0,43.3],[0,45],[-2.55,53.5],[-2.1,43.7],[-2.2,44],[-5,101.9],[0,42.9],[-2.2,45],
  [0,46.4],[0,96]
];
const numPos = [
  [54,204],[354,199],[644,193],[935,193],[53,473],[356,474],[639,468],[939,463],
  [61,744],[351,744],[638,738],[0,0],[57,1003],[351,942],[641,1005],[926,1004],
  [54,1283],[348,1214]
];
// y-label font size, distance of its centre from the plot's left edge
const yLabStyle = [
  [10.5,27],[12.6,31],[12.6,32],[10.5,27],[12.6,31.5],[10.5,27],[12.6,30],[12.6,30],
  [12.6,32],[12.6,31],[12.6,32],[12.6,31],[12.6,31.5],[12.6,41.5],[10.5,27.5],[12.6,30],
  [12.6,32],[12.6,32.5]
];
const titleCx = [130.5, 421, 711.7, 1002.4];
const titleBase = [25, 294, 563, 832, 1101];

const panelData = [
  [kLabelsHex, kPos136, bands136, ticks10], [kLabelsOrtho, kPos172, bands172, ticks8],
  [kLabels471, kPos471, bands471, ticks10], [kLabelsHex, kPos10, bands10, ticks10],
  [kLabelsOrtho, kPos491, bands491, ticks8], [kLabelsHex, kPos216, bands216, ticks8],
  [kLabelsMono, kPos494, bands494, ticks8], [kLabelsMono, kPos488, bands488, ticks8],
  [kLabelsRh, kPos5, bands5, ticks8], [kLabelsRh, kPos358, bands358, ticks8],
  [kLabelsMono, kPos11, bands11, ticks10b], [kLabels372, kPos372, bands372, ticks8],
  [kLabels105, kPos105, bands105, ticks8], [kLabelsOrtho, kPos116, bands116, ticks20],
  [kLabelsRh, kPos67, bands67, ticks8], [kLabelsOrtho, kPos166, bands166, ticks8],
  [kLabelsMono, kPos377, bands377, ticks8], [kLabelsMono, kPos251, bands251, ticks20b]
];
const smallPanels = [0, 3, 5, 14];
const densePanels = [13, 17];

const GREEN = '#0a6b33';
const FONT = '"DejaVu Sans", sans-serif';
const PAD_L = 62, PAD_T = 42, PAD_R = 12, PAD_B = 26;

function makeDecor(i, cLeft, cTop) {
  return {
    id: 'decor' + i,
    afterDraw(chart) {
      const ctx = chart.ctx, a = chart.chartArea, ys = chart.scales.y;
      ctx.save();
      // inward y ticks on both sides
      ctx.strokeStyle = '#000';
      ctx.lineWidth = 1.2;
      ctx.beginPath();
      ys.ticks.forEach(t => {
        const py = Math.round(ys.getPixelForValue(t.value)) + 0.5;
        ctx.moveTo(a.left, py); ctx.lineTo(a.left + 4, py);
        ctx.moveTo(a.right - 4, py); ctx.lineTo(a.right, py);
      });
      ctx.stroke();
      // frame
      ctx.lineWidth = 1.3;
      ctx.strokeRect(a.left, a.top, a.right - a.left, a.bottom - a.top);
      // title
      ctx.fillStyle = '#000';
      ctx.font = '25.5px ' + FONT;
      ctx.textAlign = 'center';
      ctx.textBaseline = 'alphabetic';
      ctx.fillText(titles[i], titleCx[i % 4] - cLeft, titleBase[Math.floor(i / 4)] - cTop);
      // y label
      ctx.save();
      ctx.translate(a.left - yLabStyle[i][1], (a.top + a.bottom) / 2);
      ctx.rotate(-Math.PI / 2);
      ctx.font = yLabStyle[i][0] + 'px ' + FONT;
      ctx.textBaseline = 'middle';
      ctx.fillStyle = '#222';
      ctx.fillText('Frequency (THz)', 0, 0);
      ctx.restore();
      // number
      if (values[i]) {
        ctx.font = '26px ' + FONT;
        ctx.fillStyle = '#0000ff';
        ctx.textAlign = 'left';
        ctx.fillText(values[i], numPos[i][0] - cLeft, numPos[i][1] - cTop);
      }
      ctx.restore();
    }
  };
}

panelData.forEach(([labels, kPos, bands, yTicks], i) => {
  const [L, T, W, H] = boxes[i];
  const cLeft = L - PAD_L, cTop = T - PAD_T;
  const cv = document.createElement('canvas');
  cv.width = W + PAD_L + PAD_R;
  cv.height = H + PAD_T + PAD_B;
  cv.style.left = cLeft + 'px';
  cv.style.top = cTop + 'px';
  document.body.appendChild(cv);

  const small = smallPanels.includes(i);
  const lw = densePanels.includes(i) ? 1.7 : 1.4;
  const datasets = [];
  if (yRanges[i][0] < 0) {
    datasets.push({ data: [{ x: 0, y: 0 }, { x: 1, y: 0 }], borderColor: '#333',
      borderWidth: 1, borderDash: [4, 3], pointRadius: 0 });
  }
  bands.forEach(b => {
    datasets.push({
      data: kPos.map((x, j) => ({ x, y: b[j] })),
      borderColor: GREEN, borderWidth: lw, pointRadius: 0,
      cubicInterpolationMode: 'monotone'
    });
  });

  new Chart(cv, {
    type: 'line',
    data: { datasets },
    options: {
      responsive: false,
      animation: false,
      events: [],
      layout: { padding: { left: 0, top: PAD_T, right: PAD_R, bottom: 0 } },
      plugins: { legend: { display: false }, tooltip: { enabled: false } },
      scales: {
        x: {
          type: 'linear', min: 0, max: 1,
          afterBuildTicks: s => { s.ticks = kPos.map(v => ({ value: v })); },
          afterFit: s => { s.height = PAD_B; },
          ticks: {
            autoSkip: false, maxRotation: 0, minRotation: 0, padding: 3,
            color: '#222', font: { family: FONT, size: small ? 12 : 13.5 },
            callback: (v, j) => labels[j]
          },
          grid: { color: '#000', lineWidth: 1.3, drawTicks: false },
          border: { display: false }
        },
        y: {
          min: yRanges[i][0], max: yRanges[i][1],
          afterBuildTicks: s => { s.ticks = yTicks.map(v => ({ value: v })); },
          afterFit: s => { s.width = PAD_L; },
          ticks: { padding: 3, color: '#222', font: { family: FONT, size: small ? 12.5 : 13.5 } },
          grid: { display: false, drawTicks: false },
          border: { display: false }
        }
      }
    },
    plugins: [makeDecor(i, cLeft, cTop)]
  });
});
</script>
</body>
</html>
